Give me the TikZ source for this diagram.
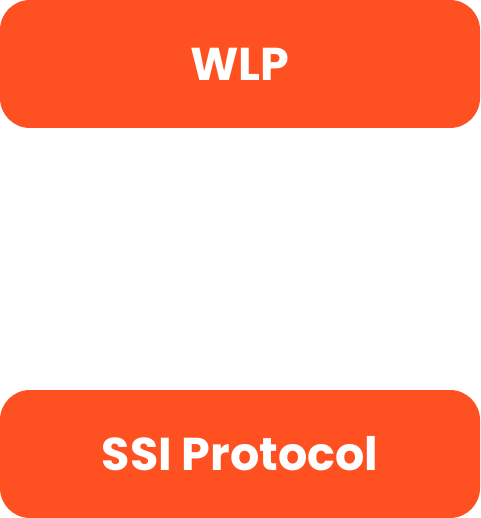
\documentclass[tikz,border=0pt]{standalone}
\usepackage{fontspec}
\setmainfont{Poppins}
\definecolor{boxorange}{RGB}{255,80,33}
\begin{document}
\begin{tikzpicture}[x=1pt,y=-1pt,
  blk/.style={fill=boxorange,draw=none,rounded corners=30pt,minimum width=480pt,minimum height=128pt,inner sep=0pt,text=white,font=\fontsize{46}{50}\selectfont\bfseries}]
\useasboundingbox (0,0) rectangle (480,518);
\node[blk] (wlp) at (240,64) {WLP};
\node[blk] (ssi) at (240,454) {SSI Protocol};
\end{tikzpicture}
\end{document}
